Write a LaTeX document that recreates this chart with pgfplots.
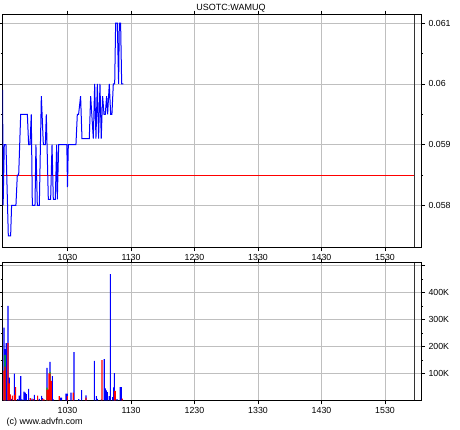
\documentclass[border=0pt]{standalone}
\usepackage{pgfplots}
\pgfplotsset{compat=1.18}
\usepackage{fontspec}
\setmainfont{Liberation Sans}
\definecolor{pureRed}{RGB}{255,0,0}
\definecolor{pureBlue}{RGB}{0,0,255}
\begin{document}
\begin{tikzpicture}[x=1pt,y=1pt]
\useasboundingbox (0,0) rectangle (460,430);
\pgfplotsset{
  common/.style={
    scale only axis, width=418.3pt, xmin=568.8, xmax=964,
    xtick={630,690,750,810,870,930},
    xticklabels={1030,1130,1230,1330,1430,1530},
    yticklabel pos=right,
    grid=major,
    major grid style={gray!50, line width=0.5pt},
    axis line style={line width=0.9pt},
    tick style={black, line width=0.5pt},
    major tick length=4pt, minor tick length=2pt,
    tick align=outside,
    ticklabel style={font=\fontsize{8.8}{10}\selectfont},
    scaled y ticks=false,
    extra x ticks={957.7}, extra x tick labels={},
    extra x tick style={major grid style={draw=gray!40!black, line width=0.6pt}, tick style={draw=none}},
    clip=true,
  }
}
\begin{axis}[common, at={(2.7pt,182.7pt)}, anchor=south west, height=232.6pt,
  ymin=0.05731, ymax=0.06114,
  ytick={0.058,0.059,0.06,0.061}, yticklabels={0.058,0.059,0.06,0.061},
  minor y tick num=1]
\addplot[draw=pureRed, line width=1pt] coordinates {(568.8,0.0585) (957.7,0.0585)};
\addplot[draw=pureBlue, line width=1pt] coordinates {
(568.7,0.0599) (569.2,0.0580) (570.3,0.0590) (571.9,0.0590) (574.1,0.0575) (576.3,0.0575)
(577.2,0.0580) (581.3,0.0580) (582.6,0.0585) (583.9,0.0585) (585.8,0.0595) (592.1,0.0595)
(593.3,0.0590) (594.6,0.0590) (595.8,0.0595) (596.8,0.0580) (599.3,0.0580) (600.2,0.0590)
(601.5,0.0580) (603.4,0.0580) (605.3,0.0598) (607.2,0.0590) (609.1,0.0590) (610.0,0.0595)
(611.9,0.0581) (614.1,0.0581) (615.4,0.0590) (616.6,0.0581) (618.5,0.0581) (619.8,0.0590)
(620.4,0.0581) (621.7,0.0590) (629.4,0.0590) (630.0,0.0583) (630.8,0.0590) (638.0,0.0590)
(639.3,0.0595) (640.5,0.0595) (642.4,0.0598) (643.7,0.0591) (650.6,0.0591) (651.9,0.0598)
(654.4,0.0591) (655.7,0.0600) (656.9,0.0591) (658.2,0.0600) (659.4,0.0591) (660.7,0.0600)
(661.9,0.0591) (663.2,0.0598) (664.5,0.0595) (665.7,0.0595) (667.0,0.0598) (667.9,0.0595)
(669.5,0.0600) (670.8,0.0595) (672.0,0.0595) (673.3,0.0600) (674.6,0.0600) (675.5,0.0610)
(677.1,0.0610) (678.3,0.0600) (679.0,0.0610) (680.2,0.0610) (681.2,0.0600) (682.8,0.0600)
};
\end{axis}
\begin{axis}[common, at={(2.7pt,29.7pt)}, anchor=south west, height=137.6pt,
  ymin=0, ymax=510000,
  ytick={100000,200000,300000,400000,500000}, yticklabels={100K,200K,300K,400K,},
  minor y tick num=1]
\addplot[ybar, bar width=1.1, bar shift=0pt, draw=none, fill=pureBlue] table {
570.0 269000
570.9 190000
572.2 212000
573.8 350000
575.0 84000
576.9 5000
579.8 99000
582.9 4000
584.5 17000
585.8 90000
587.0 3000
588.9 32000
590.2 28000
591.1 23000
593.3 42000
596.5 6000
598.7 20000
603.4 5000
605.6 16000
606.5 8000
610.6 120000
613.5 142000
615.7 90000
616.6 3000
623.2 10000
624.5 10000
628.6 25000
629.9 25000
633.3 28000
636.1 179000
640.6 4000
643.4 38000
647.5 18000
655.4 146000
657.3 15000
658.2 5000
662.0 3000
664.8 153000
665.8 44000
666.7 37000
667.7 30000
669.5 15000
670.5 468000
672.7 12000
673.6 48000
674.3 101000
676.8 4000
679.9 49000
680.9 49000
};
\addplot[ybar, bar width=1.1, bar shift=0pt, draw=none, fill=green!80!black] table {
570.9 168000
610.6 47000
613.5 105000
};
\addplot[ybar, bar width=1.1, bar shift=0pt, draw=none, fill=pureRed] table {
570.0 110000
570.9 125000
573.8 212000
575.0 63000
576.0 22000
577.9 17000
579.8 20000
581.0 49000
594.9 8000
597.7 4000
601.8 17000
606.5 4000
607.8 3000
610.6 40000
611.6 40000
612.5 100000
613.5 100000
614.7 72000
622.3 15000
629.9 15000
635.5 28000
647.5 10000
662.6 149000
674.3 35000
675.2 35000
681.8 6000
};
\end{axis}
\node[font=\fontsize{9}{10}\selectfont] at (231,422) {USOTC:WAMUQ};
\node[font=\fontsize{9}{10}\selectfont, anchor=west] at (3,8) {(c) www.advfn.com};
\end{tikzpicture}
\end{document}
